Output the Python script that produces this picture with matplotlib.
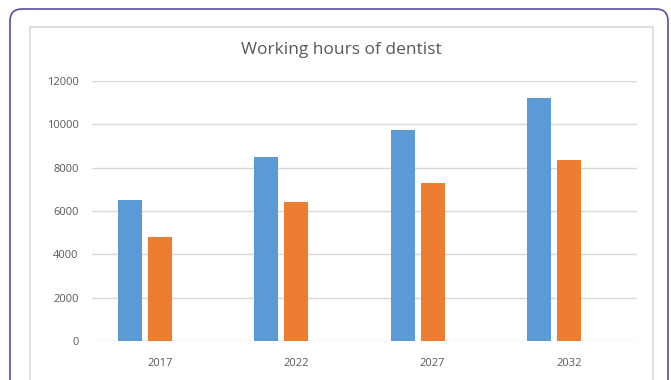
import matplotlib
matplotlib.use("Agg")
import matplotlib.pyplot as plt
from matplotlib.patches import FancyBboxPatch, Rectangle
import numpy as np

plt.rcParams['font.family'] = ['Open Sans', 'DejaVu Sans']

categories = ['2017', '2022', '2027', '2032']
series_blue = [6500, 8500, 9750, 11200]
series_orange = [4800, 6400, 7300, 8350]
yticks = [0, 2000, 4000, 6000, 8000, 10000, 12000]
title = 'Working hours of dentist'

W, H = 671, 380
fig = plt.figure(figsize=(W / 100, H / 100), dpi=100)
fig.patch.set_facecolor('white')

# outer rounded border
outer = FancyBboxPatch((10 / W, -0.2), (668 - 10) / W, (H - 9) / H + 0.2,
                       boxstyle="round,pad=0,rounding_size=0.018",
                       transform=fig.transFigure, fill=False,
                       edgecolor='#5a4e9e', linewidth=1.2, mutation_aspect=W / H)
fig.patches.append(outer)
# inner chart box
inner = Rectangle((30 / W, -0.1), (653 - 30) / W, (H - 27) / H + 0.1,
                  transform=fig.transFigure, fill=False,
                  edgecolor='#d9d9d9', linewidth=1.2)
fig.patches.append(inner)

ax = fig.add_axes([92 / W, 1 - 341 / H, (637 - 92) / W, (341 - 81) / H])
x = np.arange(len(categories))
bw = 0.176
off = 0.22
ax.bar(x - off, series_blue, width=bw, color='#5b9bd5', zorder=3)
ax.bar(x, series_orange, width=bw, color='#ed7d31', zorder=3)

ax.set_xlim(-0.5, len(categories) - 0.5)
ax.set_ylim(0, 12000)
ax.set_yticks(yticks)
ax.set_yticklabels([str(v) for v in yticks])
ax.set_xticks(x)
ax.set_xticklabels(categories)
ax.grid(axis='y', color='#d9d9d9', linewidth=1, zorder=0)
for s in ax.spines.values():
    s.set_visible(False)
ax.tick_params(axis='both', length=0, labelsize=8, colors='#595959')
ax.tick_params(axis='y', pad=9.5)
ax.tick_params(axis='x', pad=12.5)

fig.text(341.5 / W, 1 - 50 / H, title, ha='center', va='center',
         fontsize=12.5, color='#595959')

fig.savefig('out.png', dpi=100)
